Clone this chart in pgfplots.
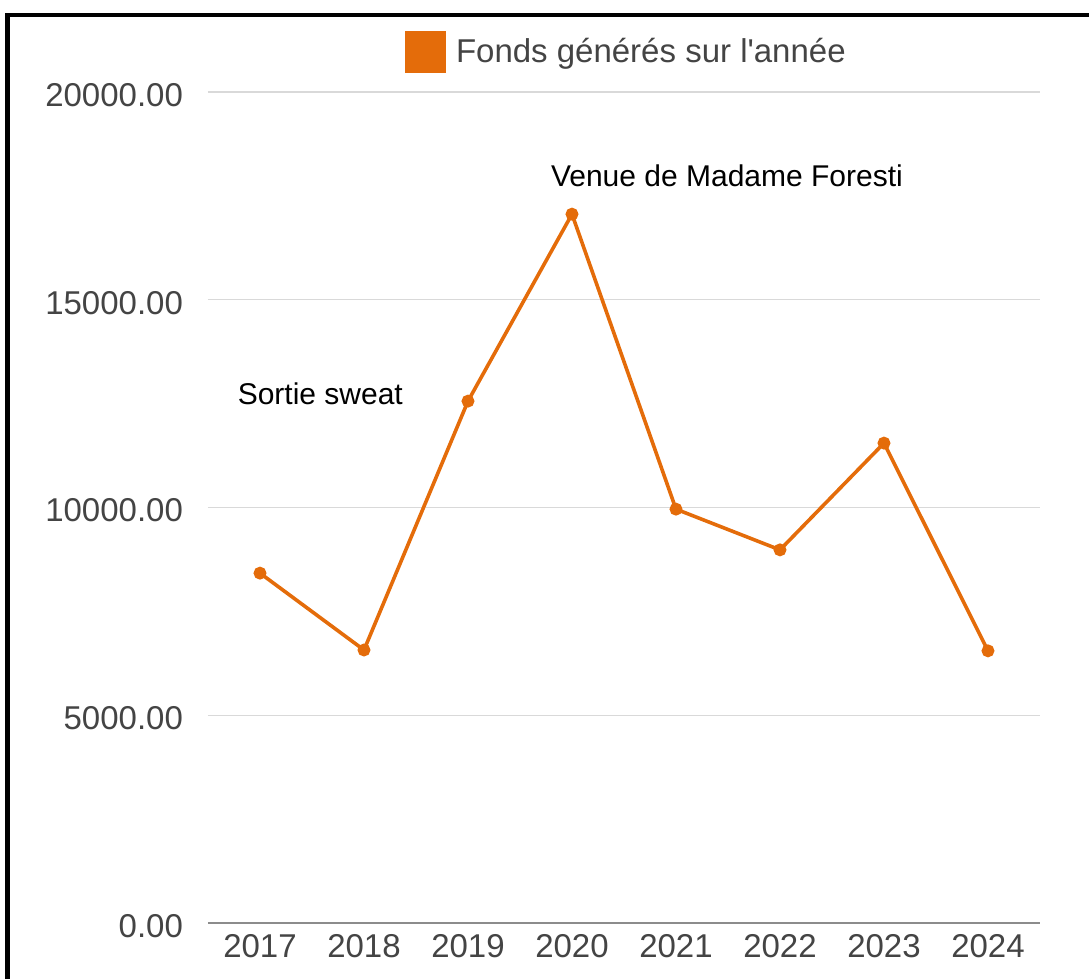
\documentclass[border=0pt]{standalone}
\usepackage{pgfplots}
\pgfplotsset{compat=1.18}
\usepackage{fontspec}
\setmainfont{Liberation Sans}
\definecolor{lineor}{HTML}{E46C0A}
\definecolor{ticktxt}{HTML}{444444}
\definecolor{gridc}{HTML}{D9D9D9}
\definecolor{axc}{HTML}{8C8C8C}
\begin{document}
\begin{tikzpicture}
\useasboundingbox (-104pt,-28pt) rectangle (440.5pt,461.5pt);
% frame lines (top and left)
\fill[black] (-101.5pt,453pt) rectangle (440.5pt,455pt);
\fill[black] (-101.5pt,-28pt) rectangle (-99pt,455pt);
\begin{axis}[
  at={(0pt,0pt)}, anchor=south west,
  width=416pt, height=415.5pt, scale only axis,
  xmin=2016.5, xmax=2024.5, ymin=0, ymax=20000,
  xtick={2017,2018,2019,2020,2021,2022,2023,2024},
  xticklabels={2017,2018,2019,2020,2021,2022,2023,2024},
  ytick={0,5000,10000,15000,20000},
  /pgf/number format/assume math mode=true,
  yticklabel style={/pgf/number format/fixed, /pgf/number format/fixed zerofill,
    /pgf/number format/precision=2, /pgf/number format/1000 sep={}, xshift=-9pt, yshift=-1.5pt},
  scaled y ticks=false,
  tick label style={font=\fontsize{16.5}{18}\selectfont, text=ticktxt},
  xticklabel style={yshift=-2pt},
  major tick length=0pt,
  axis x line*=bottom, axis y line*=left,
  x axis line style={color=axc, line width=0.6pt, -},
  y axis line style={draw=none},
  ymajorgrids, grid style={color=gridc, line width=0.6pt},
  legend style={at={(rel axis cs:0.2368,1.048)}, anchor=west, draw=none, fill=none,
    inner sep=0pt, font=\fontsize{16.5}{18}\selectfont, text=ticktxt},
  legend image code/.code={\fill[lineor] (0pt,-9.5pt) rectangle (18.5pt,9.5pt);},
  clip=false,
]
\addplot[color=lineor, line width=1.8pt, mark=*, mark size=2.3pt, mark options={fill=lineor, draw=lineor}]
  coordinates {(2017,8420) (2018,6570) (2019,12560) (2020,17060) (2021,9960) (2022,8980) (2023,11550) (2024,6550)};
\addlegendentry{\hspace{3pt}Fonds générés sur l\textquotesingle année}
\node[font=\fontsize{15}{17}\selectfont, text=black] at (axis cs:2017.58,12730) {Sortie sweat};
\node[font=\fontsize{15}{17}\selectfont, text=black] at (axis cs:2021.49,17980) {Venue de Madame Foresti};
\end{axis}
\end{tikzpicture}
\end{document}
